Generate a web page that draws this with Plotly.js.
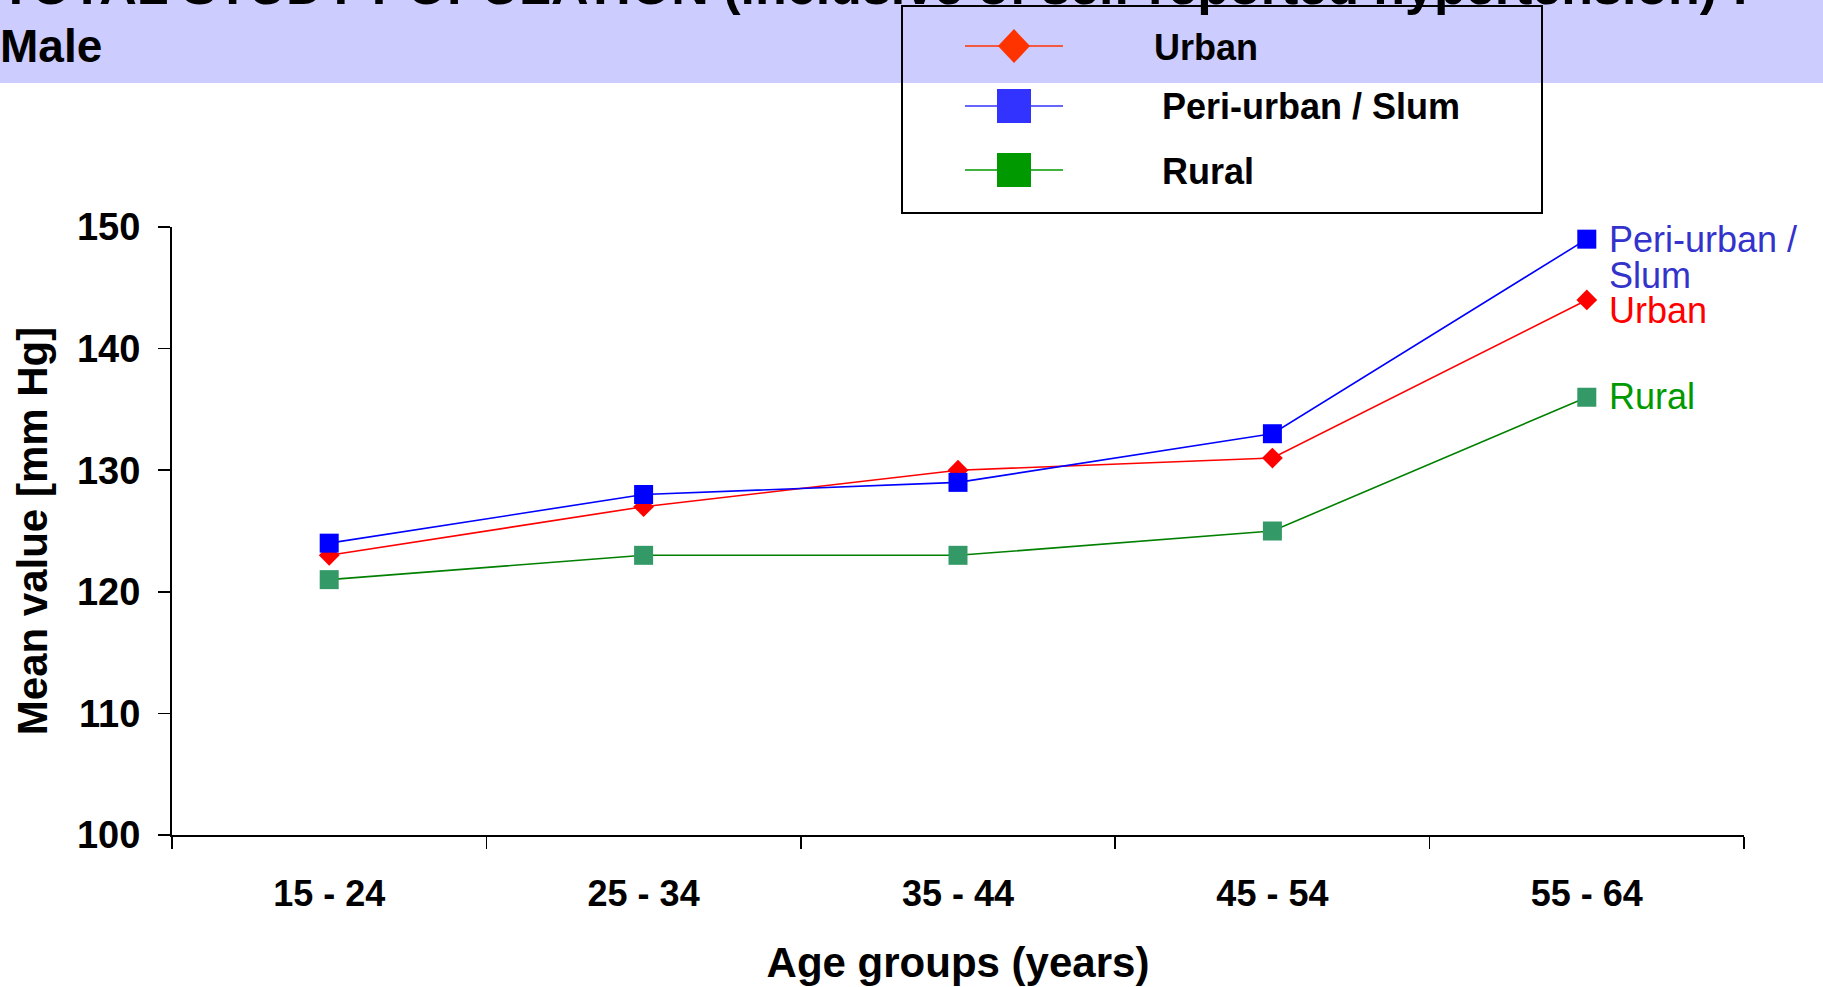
<!DOCTYPE html>
<html>
<head>
<meta charset="utf-8">
<script src="https://cdn.plot.ly/plotly-3.0.1.min.js"></script>
<style>
  html, body { margin: 0; padding: 0; background: #ffffff; }
  #chart { width: 1823px; height: 987px; }
</style>
</head>
<body>
<div id="chart"></div>
<script>
// ---------------- data ----------------
const ageGroups = ["15 - 24", "25 - 34", "35 - 44", "45 - 54", "55 - 64"];
const urban     = [123, 127, 130, 131, 144];
const periUrban = [124, 128, 129, 133, 149];
const rural     = [121, 123, 123, 125, 136];
const seriesNames = ["Urban", "Peri-urban / Slum", "Rural"];
const yTicks = [100, 110, 120, 130, 140, 150];

const titleLine1 = "TOTAL STUDY POPULATION (inclusive of self-reported hypertension) :";
const titleLine2 = "Male";
const xTitle = "Age groups (years)";
const yTitle = "Mean value [mm Hg]";

// ---------------- layout geometry (pixels) ----------------
const W = 1823, H = 987;
const M = { l: 172, r: 79, t: 227, b: 152 };
const plotW = W - M.l - M.r, plotH = H - M.t - M.b;
const px2x = p => (p - M.l) / plotW;
const px2y = p => (H - M.b - p) / plotH;

const FONT = "Liberation Sans, Arial, Helvetica, sans-serif";

// ---------------- traces ----------------
const lineCol   = { urban: "#FF0000", peri: "#0000FF", rural: "#008000" };
const markerCol = { urban: "#FF0000", peri: "#0000FF", rural: "#339966" };

const traces = [
  { x: ageGroups, y: rural, name: seriesNames[2], type: "scatter", mode: "lines+markers",
    line: { color: lineCol.rural, width: 1.6 },
    marker: { symbol: "square", size: 19, color: markerCol.rural, line: { width: 0 } } },
  { x: ageGroups, y: urban, name: seriesNames[0], type: "scatter", mode: "lines+markers",
    line: { color: lineCol.urban, width: 1.6 },
    marker: { symbol: "diamond", size: 16, color: markerCol.urban, line: { width: 0 } } },
  { x: ageGroups, y: periUrban, name: seriesNames[1], type: "scatter", mode: "lines+markers",
    line: { color: lineCol.peri, width: 1.6 },
    marker: { symbol: "square", size: 19, color: markerCol.peri, line: { width: 0 } } }
];

// ---------------- shapes & annotations ----------------
const shapes = [];
const annotations = [];

// banner
shapes.push({ type: "rect", xref: "paper", yref: "paper", layer: "below",
  x0: px2x(0), x1: px2x(W), y0: px2y(83), y1: px2y(-5),
  fillcolor: "#CCCCFF", line: { width: 0 } });

// title (first line partly cut off at the top, as in the source)
annotations.push({ xref: "paper", yref: "paper", x: px2x(-1), y: px2y(-44),
  xanchor: "left", yanchor: "top", showarrow: false, borderpad: 0,
  text: titleLine1, font: { family: FONT, size: 52, weight: "bold", color: "#000" } });
annotations.push({ xref: "paper", yref: "paper", x: px2x(-1), y: px2y(19),
  xanchor: "left", yanchor: "top", showarrow: false, borderpad: 0,
  text: titleLine2, font: { family: FONT, size: 46, weight: "bold", color: "#000" } });

// legend box (custom, large symbols)
shapes.push({ type: "rect", xref: "paper", yref: "paper",
  x0: px2x(902), x1: px2x(1542), y0: px2y(213), y1: px2y(6),
  fillcolor: "rgba(0,0,0,0)", line: { color: "#000", width: 2 } });

const legColors = ["#FF3300", "#3333FF", "#009900"];
const legSymbols = ["diamond", "square", "square"];
const legRowY = [46, 106, 170];
const legTextX = [1152, 1160, 1160];
seriesNames.forEach((nm, i) => {
  const cy = legRowY[i], cx = 1014;
  shapes.push({ type: "line", xref: "paper", yref: "paper",
    x0: px2x(965), x1: px2x(1063), y0: px2y(cy), y1: px2y(cy),
    line: { color: legColors[i], width: 1.6 } });
  if (legSymbols[i] === "diamond") {
    const hw = 16, hh = 17;
    shapes.push({ type: "path", xref: "paper", yref: "paper",
      path: `M ${px2x(cx)} ${px2y(cy - hh)} L ${px2x(cx + hw)} ${px2y(cy)} L ${px2x(cx)} ${px2y(cy + hh)} L ${px2x(cx - hw)} ${px2y(cy)} Z`,
      fillcolor: legColors[i], line: { width: 0 } });
  } else {
    const h = 17;
    shapes.push({ type: "rect", xref: "paper", yref: "paper",
      x0: px2x(cx - h), x1: px2x(cx + h), y0: px2y(cy + h), y1: px2y(cy - h),
      fillcolor: legColors[i], line: { width: 0 } });
  }
  annotations.push({ xref: "paper", yref: "paper", x: px2x(legTextX[i]), y: px2y(cy + 1),
    xanchor: "left", yanchor: "middle", showarrow: false,
    text: nm, font: { family: FONT, size: 36, weight: "bold", color: "#000" } });
});

// end-of-line labels
const last = ageGroups.length - 1;
const endFont = (c) => ({ family: FONT, size: 36, color: c });
annotations.push({ x: ageGroups[last], y: periUrban[last], xref: "x", yref: "y",
  xanchor: "left", yanchor: "middle", xshift: 20, yshift: 0, showarrow: false,
  text: "Peri-urban /", font: endFont("#3333CC") });
annotations.push({ x: ageGroups[last], y: periUrban[last], xref: "x", yref: "y",
  xanchor: "left", yanchor: "middle", xshift: 20, yshift: -36, showarrow: false,
  text: "Slum", font: endFont("#3333CC") });
annotations.push({ x: ageGroups[last], y: urban[last], xref: "x", yref: "y",
  xanchor: "left", yanchor: "middle", xshift: 20, yshift: -11, showarrow: false,
  text: seriesNames[0], font: endFont("#FF0000") });
annotations.push({ x: ageGroups[last], y: rural[last], xref: "x", yref: "y",
  xanchor: "left", yanchor: "middle", xshift: 20, yshift: 1, showarrow: false,
  text: seriesNames[2], font: endFont("#009900") });

// ---------------- layout ----------------
const layout = {
  width: W, height: H,
  margin: M,
  paper_bgcolor: "#ffffff",
  plot_bgcolor: "rgba(0,0,0,0)",
  showlegend: false,
  font: { family: FONT, color: "#000" },
  xaxis: {
    type: "category", range: [-0.5, ageGroups.length - 0.5],
    tickson: "boundaries", ticks: "outside", ticklen: 12, tickwidth: 1.5, tickcolor: "#000",
    showline: true, linecolor: "#000", linewidth: 2,
    showgrid: false, zeroline: false,
    tickfont: { family: FONT, size: 36, weight: "bold", color: "#000" },
    ticklabelstandoff: 26,
    title: { text: xTitle, standoff: 34, font: { family: FONT, size: 42, weight: "bold", color: "#000" } },
    automargin: false, fixedrange: true
  },
  yaxis: {
    range: [100, 150], tickvals: yTicks, ticks: "outside", ticklen: 12, tickwidth: 1.5, tickcolor: "#000",
    showline: true, linecolor: "#000", linewidth: 2,
    showgrid: false, zeroline: false,
    tickfont: { family: FONT, size: 38, weight: "bold", color: "#000" },
    ticklabelstandoff: 10,
    title: { text: yTitle, standoff: 16, font: { family: FONT, size: 42, weight: "bold", color: "#000" } },
    automargin: false, fixedrange: true
  },
  shapes: shapes,
  annotations: annotations
};

Plotly.newPlot("chart", traces, layout, { displayModeBar: false, staticPlot: true });
</script>
</body>
</html>
